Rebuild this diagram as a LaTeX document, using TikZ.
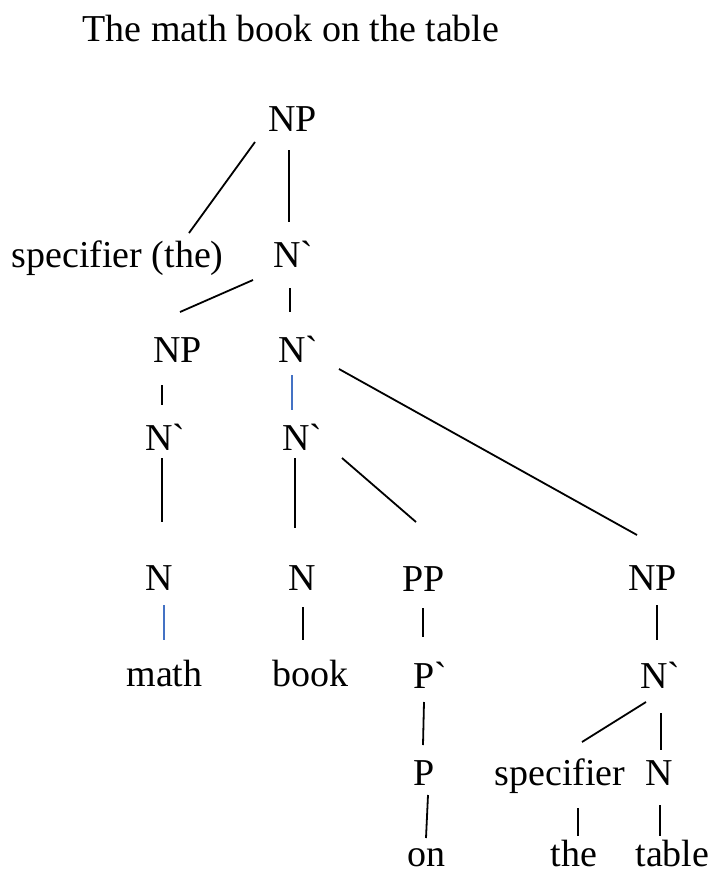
\documentclass[tikz,border=0pt]{standalone}
\usepackage{fontspec}
\setmainfont{Liberation Serif}

\definecolor{blueline}{RGB}{68,114,196}
\tikzset{every picture/.style={line width=0.75pt}}
\tikzset{
  word/.style={anchor=base west,inner sep=0pt,font=\fontsize{28.5}{34}\selectfont},
  branch/.style={color=black,line width=1.35pt},
  bluebranch/.style={color=blueline,line width=1.35pt}
}
\newcommand{\xbar}[1]{#1\textasciigrave}

\begin{document}
\begin{tikzpicture}[x=0.75pt,y=0.75pt,yscale=-1,xscale=1]
\useasboundingbox (0,0) rectangle (710,874);

% Title
\draw (82,42) node [word] (ttl) {The math book on the table};

% Text Node
\draw (268,131) node [word] (np0) {NP};
\draw (11,267) node [word] (spc) {specifier (the)};
\draw (273,267) node [word] (nb1) {\xbar{N}};
\draw (153,362) node [word] (npm) {NP};
\draw (278,362) node [word] (nb2) {\xbar{N}};
\draw (145,450) node [word] (nbm) {\xbar{N}};
\draw (282,450) node [word] (nb3) {\xbar{N}};
\draw (145,590) node [word] (nm) {N};
\draw (288,590) node [word] (nk) {N};
\draw (402,591) node [word] (pp) {PP};
\draw (628,590) node [word] (npt) {NP};
\draw (126,686) node [word] (math) {math};
\draw (272,686) node [word] (book) {book};
\draw (413,688) node [word] (pb) {\xbar{P}};
\draw (640,688) node [word] (nbt) {\xbar{N}};
\draw (413,785) node [word] (p) {P};
\draw (494,785) node [word] (spt) {specifier};
\draw (645,785) node [word] (nt) {N};
\draw (407,866) node [word] (on) {on};
\draw (550,866) node [word] (the) {the};
\draw (635,866) node [word] (table) {table};

% Branches
\draw [branch] ([shift={(-13,11)}]np0.base west) -- ([shift={(178,-34)}]spc.base west) ;
\draw [branch] ([shift={(21,19)}]np0.base west) -- ([shift={(16,-45)}]nb1.base west) ;
\draw [branch] ([shift={(-20,13)}]nb1.base west) -- ([shift={(27,-50)}]npm.base west) ;
\draw [branch] ([shift={(17,21)}]nb1.base west) -- ([shift={(12,-50)}]nb2.base west) ;
\draw [branch] ([shift={(9,23)}]npm.base west) -- ([shift={(17,-45)}]nbm.base west) ;
\draw [bluebranch] ([shift={(14,13)}]nb2.base west) -- ([shift={(10,-40)}]nb3.base west) ;
\draw [branch] ([shift={(61,7)}]nb2.base west) -- ([shift={(9,-55)}]npt.base west) ;
\draw [branch] ([shift={(17,8)}]nbm.base west) -- ([shift={(17,-68)}]nm.base west) ;
\draw [branch] ([shift={(13,8)}]nb3.base west) -- ([shift={(7,-62)}]nk.base west) ;
\draw [branch] ([shift={(60,8)}]nb3.base west) -- ([shift={(14,-69)}]pp.base west) ;
\draw [bluebranch] ([shift={(19,15)}]nm.base west) -- ([shift={(38,-46)}]math.base west) ;
\draw [branch] ([shift={(15,17)}]nk.base west) -- ([shift={(31,-46)}]book.base west) ;
\draw [branch] ([shift={(21,17)}]pp.base west) -- ([shift={(10,-51)}]pb.base west) ;
\draw [branch] ([shift={(29,15)}]npt.base west) -- ([shift={(17,-48)}]nbt.base west) ;
\draw [branch] ([shift={(11,14)}]pb.base west) -- ([shift={(10,-40)}]p.base west) ;
\draw [branch] ([shift={(6,14)}]nbt.base west) -- ([shift={(88,-43)}]spt.base west) ;
\draw [branch] ([shift={(21,25)}]nbt.base west) -- ([shift={(16,-35)}]nt.base west) ;
\draw [branch] ([shift={(15,10)}]p.base west) -- ([shift={(19,-28)}]on.base west) ;
\draw [branch] ([shift={(84,23)}]spt.base west) -- ([shift={(28,-30)}]the.base west) ;
\draw [branch] ([shift={(15,20)}]nt.base west) -- ([shift={(25,-30)}]table.base west) ;

\end{tikzpicture}
\end{document}
